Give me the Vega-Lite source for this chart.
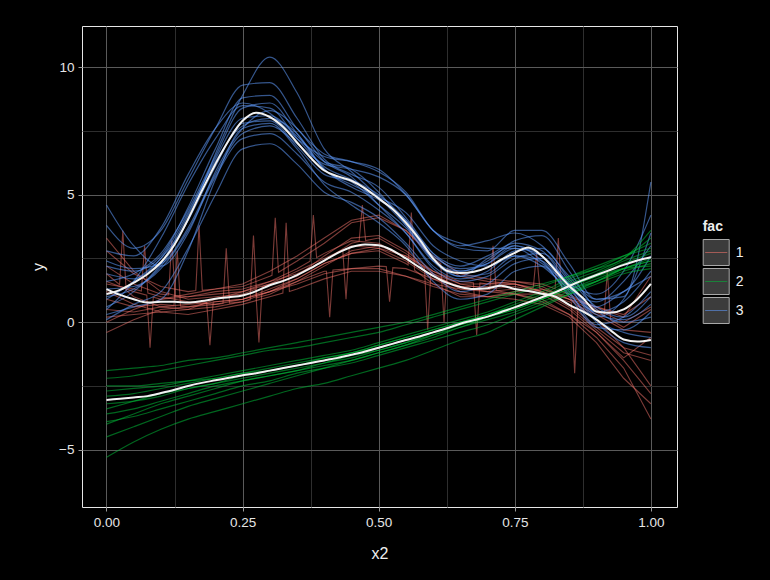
{
"$schema":"https://vega.github.io/schema/vega-lite/v6.json",
"width":595,"height":481,
"autosize":{"type":"none"},
"padding":{"left":82,"top":26,"right":93,"bottom":73},
"background":"#000000",
"datasets":{
"m":[
{"f":3,"x":0,"y":1.1},{"f":3,"x":0.025,"y":1.27},{"f":3,"x":0.05,"y":1.55},{"f":3,"x":0.075,"y":1.88},{"f":3,"x":0.1,"y":2.35},{"f":3,"x":0.125,"y":3.05},{"f":3,"x":0.15,"y":4.05},{"f":3,"x":0.175,"y":5.15},{"f":3,"x":0.2,"y":6.2},{"f":3,"x":0.225,"y":7.15},{"f":3,"x":0.25,"y":7.9},{"f":3,"x":0.275,"y":8.22},{"f":3,"x":0.3,"y":8.05},{"f":3,"x":0.325,"y":7.65},{"f":3,"x":0.35,"y":7.05},{"f":3,"x":0.375,"y":6.45},{"f":3,"x":0.4,"y":5.95},{"f":3,"x":0.425,"y":5.72},{"f":3,"x":0.45,"y":5.55},{"f":3,"x":0.475,"y":5.25},{"f":3,"x":0.5,"y":4.85},{"f":3,"x":0.525,"y":4.45},{"f":3,"x":0.55,"y":3.9},{"f":3,"x":0.575,"y":3.25},{"f":3,"x":0.6,"y":2.5},{"f":3,"x":0.625,"y":2.02},{"f":3,"x":0.65,"y":1.93},{"f":3,"x":0.675,"y":1.98},{"f":3,"x":0.7,"y":2.15},{"f":3,"x":0.725,"y":2.45},{"f":3,"x":0.75,"y":2.72},{"f":3,"x":0.775,"y":2.93},{"f":3,"x":0.8,"y":2.6},{"f":3,"x":0.825,"y":2.02},{"f":3,"x":0.85,"y":1.42},{"f":3,"x":0.875,"y":0.95},{"f":3,"x":0.9,"y":0.42},{"f":3,"x":0.925,"y":0.37},{"f":3,"x":0.95,"y":0.5},{"f":3,"x":0.975,"y":0.9},{"f":3,"x":1,"y":1.5},
{"f":1,"x":0,"y":1.3},{"f":1,"x":0.025,"y":1.07},{"f":1,"x":0.05,"y":0.9},{"f":1,"x":0.075,"y":0.77},{"f":1,"x":0.1,"y":0.8},{"f":1,"x":0.125,"y":0.8},{"f":1,"x":0.15,"y":0.77},{"f":1,"x":0.175,"y":0.83},{"f":1,"x":0.2,"y":0.92},{"f":1,"x":0.225,"y":0.98},{"f":1,"x":0.25,"y":1.05},{"f":1,"x":0.275,"y":1.22},{"f":1,"x":0.3,"y":1.45},{"f":1,"x":0.325,"y":1.62},{"f":1,"x":0.35,"y":1.85},{"f":1,"x":0.375,"y":2.12},{"f":1,"x":0.4,"y":2.42},{"f":1,"x":0.425,"y":2.72},{"f":1,"x":0.45,"y":2.95},{"f":1,"x":0.475,"y":3.05},{"f":1,"x":0.5,"y":3.02},{"f":1,"x":0.525,"y":2.82},{"f":1,"x":0.55,"y":2.5},{"f":1,"x":0.575,"y":2.15},{"f":1,"x":0.6,"y":1.82},{"f":1,"x":0.625,"y":1.55},{"f":1,"x":0.65,"y":1.38},{"f":1,"x":0.675,"y":1.3},{"f":1,"x":0.7,"y":1.33},{"f":1,"x":0.725,"y":1.43},{"f":1,"x":0.75,"y":1.3},{"f":1,"x":0.775,"y":1.22},{"f":1,"x":0.8,"y":1.12},{"f":1,"x":0.825,"y":1.0},{"f":1,"x":0.85,"y":0.68},{"f":1,"x":0.875,"y":0.42},{"f":1,"x":0.9,"y":0.1},{"f":1,"x":0.925,"y":-0.3},{"f":1,"x":0.95,"y":-0.68},{"f":1,"x":0.975,"y":-0.76},{"f":1,"x":1,"y":-0.7},
{"f":2,"x":0,"y":-3.05},{"f":2,"x":0.025,"y":-3.0},{"f":2,"x":0.05,"y":-2.95},{"f":2,"x":0.075,"y":-2.9},{"f":2,"x":0.1,"y":-2.78},{"f":2,"x":0.125,"y":-2.65},{"f":2,"x":0.15,"y":-2.5},{"f":2,"x":0.175,"y":-2.38},{"f":2,"x":0.2,"y":-2.28},{"f":2,"x":0.225,"y":-2.18},{"f":2,"x":0.25,"y":-2.08},{"f":2,"x":0.275,"y":-2.0},{"f":2,"x":0.3,"y":-1.9},{"f":2,"x":0.325,"y":-1.8},{"f":2,"x":0.35,"y":-1.7},{"f":2,"x":0.375,"y":-1.6},{"f":2,"x":0.4,"y":-1.5},{"f":2,"x":0.425,"y":-1.4},{"f":2,"x":0.45,"y":-1.28},{"f":2,"x":0.475,"y":-1.15},{"f":2,"x":0.5,"y":-1.0},{"f":2,"x":0.525,"y":-0.85},{"f":2,"x":0.55,"y":-0.7},{"f":2,"x":0.575,"y":-0.56},{"f":2,"x":0.6,"y":-0.4},{"f":2,"x":0.625,"y":-0.24},{"f":2,"x":0.65,"y":-0.06},{"f":2,"x":0.675,"y":0.08},{"f":2,"x":0.7,"y":0.22},{"f":2,"x":0.725,"y":0.4},{"f":2,"x":0.75,"y":0.58},{"f":2,"x":0.775,"y":0.78},{"f":2,"x":0.8,"y":0.98},{"f":2,"x":0.825,"y":1.18},{"f":2,"x":0.85,"y":1.42},{"f":2,"x":0.875,"y":1.65},{"f":2,"x":0.9,"y":1.85},{"f":2,"x":0.925,"y":2.05},{"f":2,"x":0.95,"y":2.25},{"f":2,"x":0.975,"y":2.42},{"f":2,"x":1,"y":2.55}
],
"s":[
{"f":3,"s":1,"x":0,"y":0.3},{"f":3,"s":1,"x":0.05,"y":0.6},{"f":3,"s":1,"x":0.1,"y":0.9},{"f":3,"s":1,"x":0.15,"y":2.8},{"f":3,"s":1,"x":0.2,"y":5.6},{"f":3,"s":1,"x":0.25,"y":7.6},{"f":3,"s":1,"x":0.3,"y":7.8},{"f":3,"s":1,"x":0.35,"y":6.8},{"f":3,"s":1,"x":0.4,"y":5.4},{"f":3,"s":1,"x":0.45,"y":4.6},{"f":3,"s":1,"x":0.5,"y":3.9},{"f":3,"s":1,"x":0.55,"y":3.0},{"f":3,"s":1,"x":0.6,"y":1.6},{"f":3,"s":1,"x":0.65,"y":0.9},{"f":3,"s":1,"x":0.7,"y":1.1},{"f":3,"s":1,"x":0.75,"y":2.0},{"f":3,"s":1,"x":0.8,"y":2.2},{"f":3,"s":1,"x":0.85,"y":1.0},{"f":3,"s":1,"x":0.9,"y":-0.2},{"f":3,"s":1,"x":0.95,"y":-0.3},{"f":3,"s":1,"x":1,"y":0.4},
{"f":3,"s":2,"x":0,"y":2.2},{"f":3,"s":2,"x":0.05,"y":2.0},{"f":3,"s":2,"x":0.1,"y":2.6},{"f":3,"s":2,"x":0.15,"y":4.5},{"f":3,"s":2,"x":0.2,"y":6.8},{"f":3,"s":2,"x":0.25,"y":8.8},{"f":3,"s":2,"x":0.3,"y":8.9},{"f":3,"s":2,"x":0.35,"y":7.6},{"f":3,"s":2,"x":0.4,"y":6.6},{"f":3,"s":2,"x":0.45,"y":6.3},{"f":3,"s":2,"x":0.5,"y":5.9},{"f":3,"s":2,"x":0.55,"y":5.1},{"f":3,"s":2,"x":0.6,"y":3.6},{"f":3,"s":2,"x":0.65,"y":3.0},{"f":3,"s":2,"x":0.7,"y":3.2},{"f":3,"s":2,"x":0.75,"y":3.5},{"f":3,"s":2,"x":0.8,"y":3.0},{"f":3,"s":2,"x":0.85,"y":1.8},{"f":3,"s":2,"x":0.9,"y":0.9},{"f":3,"s":2,"x":0.95,"y":1.2},{"f":3,"s":2,"x":1,"y":2.6},
{"f":3,"s":3,"x":0,"y":1.0},{"f":3,"s":3,"x":0.05,"y":1.3},{"f":3,"s":3,"x":0.1,"y":2.1},{"f":3,"s":3,"x":0.15,"y":3.6},{"f":3,"s":3,"x":0.2,"y":5.7},{"f":3,"s":3,"x":0.25,"y":7.2},{"f":3,"s":3,"x":0.3,"y":7.4},{"f":3,"s":3,"x":0.35,"y":6.6},{"f":3,"s":3,"x":0.4,"y":5.5},{"f":3,"s":3,"x":0.45,"y":5.1},{"f":3,"s":3,"x":0.5,"y":4.4},{"f":3,"s":3,"x":0.55,"y":3.5},{"f":3,"s":3,"x":0.6,"y":2.1},{"f":3,"s":3,"x":0.65,"y":1.6},{"f":3,"s":3,"x":0.7,"y":1.8},{"f":3,"s":3,"x":0.75,"y":2.5},{"f":3,"s":3,"x":0.8,"y":2.7},{"f":3,"s":3,"x":0.85,"y":1.6},{"f":3,"s":3,"x":0.9,"y":0.3},{"f":3,"s":3,"x":0.95,"y":0.1},{"f":3,"s":3,"x":1,"y":0.7},
{"f":3,"s":4,"x":0,"y":3.8},{"f":3,"s":4,"x":0.05,"y":2.9},{"f":3,"s":4,"x":0.1,"y":3.6},{"f":3,"s":4,"x":0.15,"y":5.6},{"f":3,"s":4,"x":0.2,"y":7.6},{"f":3,"s":4,"x":0.25,"y":9.3},{"f":3,"s":4,"x":0.3,"y":9.4},{"f":3,"s":4,"x":0.35,"y":8.0},{"f":3,"s":4,"x":0.4,"y":6.4},{"f":3,"s":4,"x":0.45,"y":5.8},{"f":3,"s":4,"x":0.5,"y":5.3},{"f":3,"s":4,"x":0.55,"y":4.1},{"f":3,"s":4,"x":0.6,"y":2.7},{"f":3,"s":4,"x":0.65,"y":2.0},{"f":3,"s":4,"x":0.7,"y":2.3},{"f":3,"s":4,"x":0.75,"y":3.0},{"f":3,"s":4,"x":0.8,"y":2.4},{"f":3,"s":4,"x":0.85,"y":1.1},{"f":3,"s":4,"x":0.9,"y":0.2},{"f":3,"s":4,"x":0.95,"y":0.9},{"f":3,"s":4,"x":1,"y":3.5},
{"f":3,"s":5,"x":0,"y":0.6},{"f":3,"s":5,"x":0.05,"y":1.2},{"f":3,"s":5,"x":0.1,"y":2.3},{"f":3,"s":5,"x":0.15,"y":4.2},{"f":3,"s":5,"x":0.2,"y":6.4},{"f":3,"s":5,"x":0.25,"y":8.0},{"f":3,"s":5,"x":0.3,"y":8.1},{"f":3,"s":5,"x":0.35,"y":7.3},{"f":3,"s":5,"x":0.4,"y":6.3},{"f":3,"s":5,"x":0.45,"y":6.0},{"f":3,"s":5,"x":0.5,"y":5.1},{"f":3,"s":5,"x":0.55,"y":3.8},{"f":3,"s":5,"x":0.6,"y":2.4},{"f":3,"s":5,"x":0.65,"y":2.0},{"f":3,"s":5,"x":0.7,"y":2.4},{"f":3,"s":5,"x":0.75,"y":3.2},{"f":3,"s":5,"x":0.8,"y":3.4},{"f":3,"s":5,"x":0.85,"y":2.0},{"f":3,"s":5,"x":0.9,"y":0.5},{"f":3,"s":5,"x":0.95,"y":0.0},{"f":3,"s":5,"x":1,"y":0.2},
{"f":3,"s":6,"x":0,"y":1.6},{"f":3,"s":6,"x":0.05,"y":1.9},{"f":3,"s":6,"x":0.1,"y":2.7},{"f":3,"s":6,"x":0.15,"y":4.4},{"f":3,"s":6,"x":0.2,"y":6.5},{"f":3,"s":6,"x":0.25,"y":8.4},{"f":3,"s":6,"x":0.3,"y":8.6},{"f":3,"s":6,"x":0.35,"y":7.4},{"f":3,"s":6,"x":0.4,"y":6.0},{"f":3,"s":6,"x":0.45,"y":5.4},{"f":3,"s":6,"x":0.5,"y":4.9},{"f":3,"s":6,"x":0.55,"y":4.3},{"f":3,"s":6,"x":0.6,"y":3.0},{"f":3,"s":6,"x":0.65,"y":2.4},{"f":3,"s":6,"x":0.7,"y":2.2},{"f":3,"s":6,"x":0.75,"y":2.6},{"f":3,"s":6,"x":0.8,"y":2.2},{"f":3,"s":6,"x":0.85,"y":1.3},{"f":3,"s":6,"x":0.9,"y":0.8},{"f":3,"s":6,"x":0.95,"y":1.6},{"f":3,"s":6,"x":1,"y":3.0},
{"f":3,"s":7,"x":0,"y":4.6},{"f":3,"s":7,"x":0.05,"y":3.0},{"f":3,"s":7,"x":0.1,"y":2.2},{"f":3,"s":7,"x":0.15,"y":3.5},{"f":3,"s":7,"x":0.2,"y":5.9},{"f":3,"s":7,"x":0.25,"y":7.6},{"f":3,"s":7,"x":0.3,"y":8.3},{"f":3,"s":7,"x":0.35,"y":7.6},{"f":3,"s":7,"x":0.4,"y":6.3},{"f":3,"s":7,"x":0.45,"y":5.7},{"f":3,"s":7,"x":0.5,"y":4.6},{"f":3,"s":7,"x":0.55,"y":3.5},{"f":3,"s":7,"x":0.6,"y":2.2},{"f":3,"s":7,"x":0.65,"y":1.7},{"f":3,"s":7,"x":0.7,"y":2.0},{"f":3,"s":7,"x":0.75,"y":2.8},{"f":3,"s":7,"x":0.8,"y":2.9},{"f":3,"s":7,"x":0.85,"y":1.7},{"f":3,"s":7,"x":0.9,"y":0.6},{"f":3,"s":7,"x":0.95,"y":0.2},{"f":3,"s":7,"x":1,"y":1.0},
{"f":3,"s":8,"x":0,"y":0.9},{"f":3,"s":8,"x":0.05,"y":1.6},{"f":3,"s":8,"x":0.1,"y":2.5},{"f":3,"s":8,"x":0.15,"y":4.0},{"f":3,"s":8,"x":0.2,"y":6.6},{"f":3,"s":8,"x":0.25,"y":8.9},{"f":3,"s":8,"x":0.3,"y":10.4},{"f":3,"s":8,"x":0.35,"y":9.0},{"f":3,"s":8,"x":0.4,"y":6.8},{"f":3,"s":8,"x":0.45,"y":5.9},{"f":3,"s":8,"x":0.5,"y":4.9},{"f":3,"s":8,"x":0.55,"y":3.8},{"f":3,"s":8,"x":0.6,"y":2.6},{"f":3,"s":8,"x":0.65,"y":2.1},{"f":3,"s":8,"x":0.7,"y":2.3},{"f":3,"s":8,"x":0.75,"y":2.9},{"f":3,"s":8,"x":0.8,"y":2.6},{"f":3,"s":8,"x":0.85,"y":1.5},{"f":3,"s":8,"x":0.9,"y":0.1},{"f":3,"s":8,"x":0.95,"y":-0.4},{"f":3,"s":8,"x":1,"y":-0.6},
{"f":3,"s":9,"x":0,"y":0.1},{"f":3,"s":9,"x":0.05,"y":0.7},{"f":3,"s":9,"x":0.1,"y":1.2},{"f":3,"s":9,"x":0.15,"y":2.9},{"f":3,"s":9,"x":0.2,"y":5.0},{"f":3,"s":9,"x":0.25,"y":6.8},{"f":3,"s":9,"x":0.3,"y":7.0},{"f":3,"s":9,"x":0.35,"y":6.2},{"f":3,"s":9,"x":0.4,"y":5.1},{"f":3,"s":9,"x":0.45,"y":4.7},{"f":3,"s":9,"x":0.5,"y":4.1},{"f":3,"s":9,"x":0.55,"y":3.1},{"f":3,"s":9,"x":0.6,"y":1.9},{"f":3,"s":9,"x":0.65,"y":1.2},{"f":3,"s":9,"x":0.7,"y":1.5},{"f":3,"s":9,"x":0.75,"y":2.3},{"f":3,"s":9,"x":0.8,"y":2.5},{"f":3,"s":9,"x":0.85,"y":1.3},{"f":3,"s":9,"x":0.9,"y":0.4},{"f":3,"s":9,"x":0.95,"y":0.8},{"f":3,"s":9,"x":1,"y":2.0},
{"f":3,"s":10,"x":0,"y":2.8},{"f":3,"s":10,"x":0.05,"y":2.6},{"f":3,"s":10,"x":0.1,"y":3.7},{"f":3,"s":10,"x":0.15,"y":5.8},{"f":3,"s":10,"x":0.2,"y":7.6},{"f":3,"s":10,"x":0.25,"y":8.6},{"f":3,"s":10,"x":0.3,"y":8.2},{"f":3,"s":10,"x":0.35,"y":7.2},{"f":3,"s":10,"x":0.4,"y":6.5},{"f":3,"s":10,"x":0.45,"y":6.3},{"f":3,"s":10,"x":0.5,"y":6.0},{"f":3,"s":10,"x":0.55,"y":5.0},{"f":3,"s":10,"x":0.6,"y":3.6},{"f":3,"s":10,"x":0.65,"y":2.9},{"f":3,"s":10,"x":0.7,"y":2.8},{"f":3,"s":10,"x":0.75,"y":3.6},{"f":3,"s":10,"x":0.8,"y":3.6},{"f":3,"s":10,"x":0.85,"y":2.3},{"f":3,"s":10,"x":0.9,"y":0.9},{"f":3,"s":10,"x":0.95,"y":1.0},{"f":3,"s":10,"x":1,"y":5.5},
{"f":3,"s":41,"x":0,"y":1.3},{"f":3,"s":41,"x":0.05,"y":1.4},{"f":3,"s":41,"x":0.1,"y":2.2},{"f":3,"s":41,"x":0.15,"y":4.0},{"f":3,"s":41,"x":0.2,"y":6.1},{"f":3,"s":41,"x":0.25,"y":7.8},{"f":3,"s":41,"x":0.3,"y":7.9},{"f":3,"s":41,"x":0.35,"y":6.9},{"f":3,"s":41,"x":0.4,"y":5.8},{"f":3,"s":41,"x":0.45,"y":5.5},{"f":3,"s":41,"x":0.5,"y":4.6},{"f":3,"s":41,"x":0.55,"y":3.7},{"f":3,"s":41,"x":0.6,"y":2.5},{"f":3,"s":41,"x":0.65,"y":1.8},{"f":3,"s":41,"x":0.7,"y":1.9},{"f":3,"s":41,"x":0.75,"y":2.6},{"f":3,"s":41,"x":0.8,"y":2.4},{"f":3,"s":41,"x":0.85,"y":1.2},{"f":3,"s":41,"x":0.9,"y":-0.1},{"f":3,"s":41,"x":0.95,"y":0.2},{"f":3,"s":41,"x":1,"y":1.2},
{"f":3,"s":42,"x":0,"y":1.9},{"f":3,"s":42,"x":0.05,"y":1.7},{"f":3,"s":42,"x":0.1,"y":2.5},{"f":3,"s":42,"x":0.15,"y":4.3},{"f":3,"s":42,"x":0.2,"y":6.3},{"f":3,"s":42,"x":0.25,"y":7.7},{"f":3,"s":42,"x":0.3,"y":8.0},{"f":3,"s":42,"x":0.35,"y":7.4},{"f":3,"s":42,"x":0.4,"y":6.0},{"f":3,"s":42,"x":0.45,"y":5.3},{"f":3,"s":42,"x":0.5,"y":4.8},{"f":3,"s":42,"x":0.55,"y":4.0},{"f":3,"s":42,"x":0.6,"y":2.4},{"f":3,"s":42,"x":0.65,"y":1.8},{"f":3,"s":42,"x":0.7,"y":2.5},{"f":3,"s":42,"x":0.75,"y":3.0},{"f":3,"s":42,"x":0.8,"y":2.6},{"f":3,"s":42,"x":0.85,"y":1.5},{"f":3,"s":42,"x":0.9,"y":0.6},{"f":3,"s":42,"x":0.95,"y":1.2},{"f":3,"s":42,"x":1,"y":1.8},
{"f":3,"s":43,"x":0,"y":0.5},{"f":3,"s":43,"x":0.05,"y":1.6},{"f":3,"s":43,"x":0.1,"y":3.3},{"f":3,"s":43,"x":0.15,"y":5.4},{"f":3,"s":43,"x":0.2,"y":7.2},{"f":3,"s":43,"x":0.25,"y":8.5},{"f":3,"s":43,"x":0.3,"y":8.4},{"f":3,"s":43,"x":0.35,"y":7.2},{"f":3,"s":43,"x":0.4,"y":6.1},{"f":3,"s":43,"x":0.45,"y":5.6},{"f":3,"s":43,"x":0.5,"y":5.0},{"f":3,"s":43,"x":0.55,"y":4.0},{"f":3,"s":43,"x":0.6,"y":2.7},{"f":3,"s":43,"x":0.65,"y":2.2},{"f":3,"s":43,"x":0.7,"y":2.6},{"f":3,"s":43,"x":0.75,"y":3.1},{"f":3,"s":43,"x":0.8,"y":2.8},{"f":3,"s":43,"x":0.85,"y":1.4},{"f":3,"s":43,"x":0.9,"y":0.0},{"f":3,"s":43,"x":0.95,"y":-0.8},{"f":3,"s":43,"x":1,"y":-1.0},
{"f":3,"s":44,"x":0,"y":2.4},{"f":3,"s":44,"x":0.05,"y":2.1},{"f":3,"s":44,"x":0.1,"y":2.3},{"f":3,"s":44,"x":0.15,"y":3.7},{"f":3,"s":44,"x":0.2,"y":5.8},{"f":3,"s":44,"x":0.25,"y":7.4},{"f":3,"s":44,"x":0.3,"y":7.7},{"f":3,"s":44,"x":0.35,"y":7.0},{"f":3,"s":44,"x":0.4,"y":6.2},{"f":3,"s":44,"x":0.45,"y":6.0},{"f":3,"s":44,"x":0.5,"y":5.7},{"f":3,"s":44,"x":0.55,"y":5.0},{"f":3,"s":44,"x":0.6,"y":3.6},{"f":3,"s":44,"x":0.65,"y":3.1},{"f":3,"s":44,"x":0.7,"y":2.9},{"f":3,"s":44,"x":0.75,"y":2.9},{"f":3,"s":44,"x":0.8,"y":2.3},{"f":3,"s":44,"x":0.85,"y":1.5},{"f":3,"s":44,"x":0.9,"y":1.1},{"f":3,"s":44,"x":0.95,"y":2.0},{"f":3,"s":44,"x":1,"y":4.2},
{"f":1,"s":11,"x":0,"y":2.8},{"f":1,"s":11,"x":0.05,"y":1.9},{"f":1,"s":11,"x":0.1,"y":1.4},{"f":1,"s":11,"x":0.15,"y":1.2},{"f":1,"s":11,"x":0.164,"y":1.24},{"f":1,"s":11,"x":0.17,"y":3.8},{"f":1,"s":11,"x":0.176,"y":1.25},{"f":1,"s":11,"x":0.2,"y":1.3},{"f":1,"s":11,"x":0.25,"y":1.5},{"f":1,"s":11,"x":0.3,"y":2.0},{"f":1,"s":11,"x":0.35,"y":2.6},{"f":1,"s":11,"x":0.4,"y":3.3},{"f":1,"s":11,"x":0.45,"y":4.0},{"f":1,"s":11,"x":0.5,"y":4.2},{"f":1,"s":11,"x":0.55,"y":3.6},{"f":1,"s":11,"x":0.6,"y":2.5},{"f":1,"s":11,"x":0.614,"y":2.3},{"f":1,"s":11,"x":0.62,"y":0.0},{"f":1,"s":11,"x":0.626,"y":2.1},{"f":1,"s":11,"x":0.65,"y":1.8},{"f":1,"s":11,"x":0.7,"y":1.6},{"f":1,"s":11,"x":0.75,"y":1.5},{"f":1,"s":11,"x":0.8,"y":1.2},{"f":1,"s":11,"x":0.85,"y":0.6},{"f":1,"s":11,"x":0.9,"y":-0.3},{"f":1,"s":11,"x":0.95,"y":-1.2},{"f":1,"s":11,"x":1,"y":-1.5},
{"f":1,"s":12,"x":0,"y":0.2},{"f":1,"s":12,"x":0.05,"y":0.3},{"f":1,"s":12,"x":0.1,"y":0.4},{"f":1,"s":12,"x":0.15,"y":0.3},{"f":1,"s":12,"x":0.2,"y":0.5},{"f":1,"s":12,"x":0.25,"y":0.7},{"f":1,"s":12,"x":0.3,"y":1.0},{"f":1,"s":12,"x":0.324,"y":1.14},{"f":1,"s":12,"x":0.33,"y":3.9},{"f":1,"s":12,"x":0.336,"y":1.2},{"f":1,"s":12,"x":0.35,"y":1.3},{"f":1,"s":12,"x":0.4,"y":1.7},{"f":1,"s":12,"x":0.45,"y":2.0},{"f":1,"s":12,"x":0.5,"y":2.0},{"f":1,"s":12,"x":0.55,"y":1.8},{"f":1,"s":12,"x":0.6,"y":1.4},{"f":1,"s":12,"x":0.65,"y":1.1},{"f":1,"s":12,"x":0.7,"y":1.0},{"f":1,"s":12,"x":0.75,"y":1.1},{"f":1,"s":12,"x":0.8,"y":1.1},{"f":1,"s":12,"x":0.85,"y":0.8},{"f":1,"s":12,"x":0.854,"y":0.76},{"f":1,"s":12,"x":0.86,"y":-2.0},{"f":1,"s":12,"x":0.866,"y":0.64},{"f":1,"s":12,"x":0.9,"y":0.3},{"f":1,"s":12,"x":0.95,"y":-0.3},{"f":1,"s":12,"x":1,"y":-0.4},
{"f":1,"s":13,"x":0,"y":1.6},{"f":1,"s":13,"x":0.05,"y":1.2},{"f":1,"s":13,"x":0.074,"y":1.06},{"f":1,"s":13,"x":0.08,"y":-1.0},{"f":1,"s":13,"x":0.086,"y":0.98},{"f":1,"s":13,"x":0.1,"y":0.9},{"f":1,"s":13,"x":0.15,"y":1.0},{"f":1,"s":13,"x":0.2,"y":1.2},{"f":1,"s":13,"x":0.25,"y":1.3},{"f":1,"s":13,"x":0.3,"y":1.6},{"f":1,"s":13,"x":0.35,"y":1.9},{"f":1,"s":13,"x":0.4,"y":2.4},{"f":1,"s":13,"x":0.45,"y":3.1},{"f":1,"s":13,"x":0.464,"y":3.16},{"f":1,"s":13,"x":0.47,"y":4.6},{"f":1,"s":13,"x":0.476,"y":3.2},{"f":1,"s":13,"x":0.5,"y":3.3},{"f":1,"s":13,"x":0.55,"y":2.7},{"f":1,"s":13,"x":0.6,"y":1.9},{"f":1,"s":13,"x":0.65,"y":1.5},{"f":1,"s":13,"x":0.7,"y":1.5},{"f":1,"s":13,"x":0.75,"y":1.6},{"f":1,"s":13,"x":0.8,"y":1.4},{"f":1,"s":13,"x":0.85,"y":0.9},{"f":1,"s":13,"x":0.9,"y":0.1},{"f":1,"s":13,"x":0.95,"y":-1.0},{"f":1,"s":13,"x":1,"y":-2.5},
{"f":1,"s":14,"x":0,"y":-0.4},{"f":1,"s":14,"x":0.05,"y":0.1},{"f":1,"s":14,"x":0.1,"y":0.5},{"f":1,"s":14,"x":0.15,"y":0.6},{"f":1,"s":14,"x":0.2,"y":0.7},{"f":1,"s":14,"x":0.214,"y":0.73},{"f":1,"s":14,"x":0.22,"y":2.9},{"f":1,"s":14,"x":0.226,"y":0.75},{"f":1,"s":14,"x":0.25,"y":0.8},{"f":1,"s":14,"x":0.3,"y":1.2},{"f":1,"s":14,"x":0.35,"y":1.7},{"f":1,"s":14,"x":0.4,"y":2.3},{"f":1,"s":14,"x":0.45,"y":2.7},{"f":1,"s":14,"x":0.5,"y":2.8},{"f":1,"s":14,"x":0.55,"y":2.3},{"f":1,"s":14,"x":0.554,"y":2.24},{"f":1,"s":14,"x":0.56,"y":4.3},{"f":1,"s":14,"x":0.566,"y":2.04},{"f":1,"s":14,"x":0.6,"y":1.5},{"f":1,"s":14,"x":0.65,"y":1.0},{"f":1,"s":14,"x":0.7,"y":1.0},{"f":1,"s":14,"x":0.75,"y":1.2},{"f":1,"s":14,"x":0.8,"y":1.3},{"f":1,"s":14,"x":0.85,"y":1.0},{"f":1,"s":14,"x":0.9,"y":0.6},{"f":1,"s":14,"x":0.95,"y":0.2},{"f":1,"s":14,"x":1,"y":1.8},
{"f":1,"s":15,"x":0,"y":3.3},{"f":1,"s":15,"x":0.05,"y":2.0},{"f":1,"s":15,"x":0.1,"y":1.2},{"f":1,"s":15,"x":0.15,"y":0.9},{"f":1,"s":15,"x":0.2,"y":1.0},{"f":1,"s":15,"x":0.25,"y":1.1},{"f":1,"s":15,"x":0.274,"y":1.29},{"f":1,"s":15,"x":0.28,"y":-0.8},{"f":1,"s":15,"x":0.286,"y":1.39},{"f":1,"s":15,"x":0.3,"y":1.5},{"f":1,"s":15,"x":0.35,"y":1.8},{"f":1,"s":15,"x":0.4,"y":2.6},{"f":1,"s":15,"x":0.45,"y":3.3},{"f":1,"s":15,"x":0.5,"y":3.4},{"f":1,"s":15,"x":0.55,"y":2.8},{"f":1,"s":15,"x":0.6,"y":2.0},{"f":1,"s":15,"x":0.65,"y":1.5},{"f":1,"s":15,"x":0.7,"y":1.3},{"f":1,"s":15,"x":0.704,"y":1.28},{"f":1,"s":15,"x":0.71,"y":3.0},{"f":1,"s":15,"x":0.716,"y":1.24},{"f":1,"s":15,"x":0.75,"y":1.1},{"f":1,"s":15,"x":0.8,"y":0.9},{"f":1,"s":15,"x":0.85,"y":0.3},{"f":1,"s":15,"x":0.9,"y":-0.6},{"f":1,"s":15,"x":0.95,"y":-1.8},{"f":1,"s":15,"x":1,"y":-3.8},
{"f":1,"s":16,"x":0,"y":0.9},{"f":1,"s":16,"x":0.05,"y":0.6},{"f":1,"s":16,"x":0.1,"y":0.7},{"f":1,"s":16,"x":0.124,"y":0.65},{"f":1,"s":16,"x":0.13,"y":2.8},{"f":1,"s":16,"x":0.136,"y":0.63},{"f":1,"s":16,"x":0.15,"y":0.6},{"f":1,"s":16,"x":0.2,"y":0.8},{"f":1,"s":16,"x":0.25,"y":0.9},{"f":1,"s":16,"x":0.3,"y":1.2},{"f":1,"s":16,"x":0.35,"y":1.6},{"f":1,"s":16,"x":0.4,"y":2.0},{"f":1,"s":16,"x":0.404,"y":2.0},{"f":1,"s":16,"x":0.41,"y":0.2},{"f":1,"s":16,"x":0.416,"y":2.05},{"f":1,"s":16,"x":0.45,"y":2.1},{"f":1,"s":16,"x":0.5,"y":2.1},{"f":1,"s":16,"x":0.55,"y":1.8},{"f":1,"s":16,"x":0.6,"y":1.5},{"f":1,"s":16,"x":0.65,"y":1.3},{"f":1,"s":16,"x":0.7,"y":1.3},{"f":1,"s":16,"x":0.75,"y":1.4},{"f":1,"s":16,"x":0.8,"y":1.2},{"f":1,"s":16,"x":0.85,"y":0.9},{"f":1,"s":16,"x":0.9,"y":0.4},{"f":1,"s":16,"x":0.914,"y":0.23},{"f":1,"s":16,"x":0.92,"y":2.0},{"f":1,"s":16,"x":0.926,"y":0.09},{"f":1,"s":16,"x":0.95,"y":-0.2},{"f":1,"s":16,"x":1,"y":0.5},
{"f":1,"s":17,"x":0,"y":1.9},{"f":1,"s":17,"x":0.024,"y":1.47},{"f":1,"s":17,"x":0.03,"y":3.6},{"f":1,"s":17,"x":0.036,"y":1.25},{"f":1,"s":17,"x":0.05,"y":1.0},{"f":1,"s":17,"x":0.1,"y":0.6},{"f":1,"s":17,"x":0.15,"y":0.5},{"f":1,"s":17,"x":0.2,"y":0.9},{"f":1,"s":17,"x":0.25,"y":1.2},{"f":1,"s":17,"x":0.3,"y":1.6},{"f":1,"s":17,"x":0.35,"y":2.1},{"f":1,"s":17,"x":0.374,"y":2.39},{"f":1,"s":17,"x":0.38,"y":4.2},{"f":1,"s":17,"x":0.386,"y":2.53},{"f":1,"s":17,"x":0.4,"y":2.7},{"f":1,"s":17,"x":0.45,"y":3.2},{"f":1,"s":17,"x":0.5,"y":3.1},{"f":1,"s":17,"x":0.55,"y":2.5},{"f":1,"s":17,"x":0.6,"y":1.8},{"f":1,"s":17,"x":0.65,"y":1.4},{"f":1,"s":17,"x":0.7,"y":1.2},{"f":1,"s":17,"x":0.75,"y":1.1},{"f":1,"s":17,"x":0.8,"y":0.8},{"f":1,"s":17,"x":0.85,"y":0.3},{"f":1,"s":17,"x":0.9,"y":-0.4},{"f":1,"s":17,"x":0.95,"y":-1.5},{"f":1,"s":17,"x":1,"y":-2.8},
{"f":1,"s":18,"x":0,"y":0.5},{"f":1,"s":18,"x":0.05,"y":0.4},{"f":1,"s":18,"x":0.1,"y":0.6},{"f":1,"s":18,"x":0.15,"y":0.7},{"f":1,"s":18,"x":0.184,"y":0.77},{"f":1,"s":18,"x":0.19,"y":-0.9},{"f":1,"s":18,"x":0.196,"y":0.79},{"f":1,"s":18,"x":0.2,"y":0.8},{"f":1,"s":18,"x":0.25,"y":0.9},{"f":1,"s":18,"x":0.3,"y":1.2},{"f":1,"s":18,"x":0.35,"y":1.5},{"f":1,"s":18,"x":0.4,"y":1.9},{"f":1,"s":18,"x":0.45,"y":2.1},{"f":1,"s":18,"x":0.5,"y":2.2},{"f":1,"s":18,"x":0.514,"y":2.18},{"f":1,"s":18,"x":0.52,"y":0.8},{"f":1,"s":18,"x":0.526,"y":2.14},{"f":1,"s":18,"x":0.55,"y":2.1},{"f":1,"s":18,"x":0.6,"y":1.7},{"f":1,"s":18,"x":0.65,"y":1.4},{"f":1,"s":18,"x":0.7,"y":1.4},{"f":1,"s":18,"x":0.75,"y":1.5},{"f":1,"s":18,"x":0.784,"y":1.36},{"f":1,"s":18,"x":0.79,"y":2.7},{"f":1,"s":18,"x":0.796,"y":1.32},{"f":1,"s":18,"x":0.8,"y":1.3},{"f":1,"s":18,"x":0.85,"y":0.9},{"f":1,"s":18,"x":0.9,"y":0.6},{"f":1,"s":18,"x":0.95,"y":0.3},{"f":1,"s":18,"x":1,"y":1.0},
{"f":1,"s":31,"x":0,"y":1.2},{"f":1,"s":31,"x":0.05,"y":0.7},{"f":1,"s":31,"x":0.1,"y":0.4},{"f":1,"s":31,"x":0.15,"y":0.5},{"f":1,"s":31,"x":0.2,"y":0.6},{"f":1,"s":31,"x":0.25,"y":0.8},{"f":1,"s":31,"x":0.264,"y":0.88},{"f":1,"s":31,"x":0.27,"y":3.4},{"f":1,"s":31,"x":0.276,"y":0.96},{"f":1,"s":31,"x":0.3,"y":1.1},{"f":1,"s":31,"x":0.35,"y":1.6},{"f":1,"s":31,"x":0.4,"y":2.2},{"f":1,"s":31,"x":0.45,"y":2.8},{"f":1,"s":31,"x":0.5,"y":3.0},{"f":1,"s":31,"x":0.55,"y":2.6},{"f":1,"s":31,"x":0.6,"y":2.0},{"f":1,"s":31,"x":0.65,"y":1.6},{"f":1,"s":31,"x":0.674,"y":1.55},{"f":1,"s":31,"x":0.68,"y":-0.5},{"f":1,"s":31,"x":0.686,"y":1.54},{"f":1,"s":31,"x":0.7,"y":1.5},{"f":1,"s":31,"x":0.75,"y":1.5},{"f":1,"s":31,"x":0.8,"y":1.2},{"f":1,"s":31,"x":0.85,"y":0.7},{"f":1,"s":31,"x":0.9,"y":-0.2},{"f":1,"s":31,"x":0.95,"y":-1.0},{"f":1,"s":31,"x":1,"y":-1.3},
{"f":1,"s":32,"x":0,"y":2.2},{"f":1,"s":32,"x":0.05,"y":1.5},{"f":1,"s":32,"x":0.1,"y":1.1},{"f":1,"s":32,"x":0.114,"y":1.07},{"f":1,"s":32,"x":0.12,"y":3.2},{"f":1,"s":32,"x":0.126,"y":1.05},{"f":1,"s":32,"x":0.15,"y":1.0},{"f":1,"s":32,"x":0.2,"y":1.1},{"f":1,"s":32,"x":0.25,"y":1.2},{"f":1,"s":32,"x":0.3,"y":1.5},{"f":1,"s":32,"x":0.35,"y":2.0},{"f":1,"s":32,"x":0.4,"y":2.5},{"f":1,"s":32,"x":0.434,"y":2.84},{"f":1,"s":32,"x":0.44,"y":0.9},{"f":1,"s":32,"x":0.446,"y":2.96},{"f":1,"s":32,"x":0.45,"y":3.0},{"f":1,"s":32,"x":0.5,"y":2.9},{"f":1,"s":32,"x":0.55,"y":2.4},{"f":1,"s":32,"x":0.6,"y":1.7},{"f":1,"s":32,"x":0.65,"y":1.2},{"f":1,"s":32,"x":0.7,"y":1.0},{"f":1,"s":32,"x":0.75,"y":0.9},{"f":1,"s":32,"x":0.8,"y":0.7},{"f":1,"s":32,"x":0.85,"y":0.2},{"f":1,"s":32,"x":0.9,"y":-0.8},{"f":1,"s":32,"x":0.95,"y":-2.2},{"f":1,"s":32,"x":1,"y":-3.2},
{"f":1,"s":33,"x":0,"y":0.0},{"f":1,"s":33,"x":0.05,"y":0.5},{"f":1,"s":33,"x":0.1,"y":0.9},{"f":1,"s":33,"x":0.15,"y":1.1},{"f":1,"s":33,"x":0.2,"y":1.3},{"f":1,"s":33,"x":0.25,"y":1.4},{"f":1,"s":33,"x":0.3,"y":1.8},{"f":1,"s":33,"x":0.304,"y":1.84},{"f":1,"s":33,"x":0.31,"y":4.1},{"f":1,"s":33,"x":0.316,"y":1.96},{"f":1,"s":33,"x":0.35,"y":2.4},{"f":1,"s":33,"x":0.4,"y":3.1},{"f":1,"s":33,"x":0.45,"y":3.9},{"f":1,"s":33,"x":0.5,"y":4.1},{"f":1,"s":33,"x":0.55,"y":3.6},{"f":1,"s":33,"x":0.6,"y":2.6},{"f":1,"s":33,"x":0.65,"y":1.9},{"f":1,"s":33,"x":0.7,"y":1.7},{"f":1,"s":33,"x":0.75,"y":1.6},{"f":1,"s":33,"x":0.8,"y":1.5},{"f":1,"s":33,"x":0.824,"y":1.31},{"f":1,"s":33,"x":0.83,"y":3.3},{"f":1,"s":33,"x":0.836,"y":1.21},{"f":1,"s":33,"x":0.85,"y":1.1},{"f":1,"s":33,"x":0.9,"y":0.5},{"f":1,"s":33,"x":0.95,"y":0.0},{"f":1,"s":33,"x":1,"y":0.6},
{"f":1,"s":34,"x":0,"y":1.5},{"f":1,"s":34,"x":0.05,"y":1.3},{"f":1,"s":34,"x":0.064,"y":1.22},{"f":1,"s":34,"x":0.07,"y":3.0},{"f":1,"s":34,"x":0.076,"y":1.14},{"f":1,"s":34,"x":0.1,"y":1.0},{"f":1,"s":34,"x":0.15,"y":0.8},{"f":1,"s":34,"x":0.2,"y":0.7},{"f":1,"s":34,"x":0.25,"y":0.9},{"f":1,"s":34,"x":0.3,"y":1.3},{"f":1,"s":34,"x":0.35,"y":1.7},{"f":1,"s":34,"x":0.4,"y":2.3},{"f":1,"s":34,"x":0.45,"y":2.7},{"f":1,"s":34,"x":0.5,"y":2.9},{"f":1,"s":34,"x":0.55,"y":2.6},{"f":1,"s":34,"x":0.584,"y":2.12},{"f":1,"s":34,"x":0.59,"y":-0.3},{"f":1,"s":34,"x":0.596,"y":1.96},{"f":1,"s":34,"x":0.6,"y":1.9},{"f":1,"s":34,"x":0.65,"y":1.3},{"f":1,"s":34,"x":0.7,"y":1.2},{"f":1,"s":34,"x":0.75,"y":1.3},{"f":1,"s":34,"x":0.8,"y":1.1},{"f":1,"s":34,"x":0.85,"y":0.5},{"f":1,"s":34,"x":0.9,"y":-0.4},{"f":1,"s":34,"x":0.95,"y":-1.4},{"f":1,"s":34,"x":1,"y":-0.6},
{"f":2,"s":21,"x":0,"y":-4.5},{"f":2,"s":21,"x":0.05,"y":-4.1},{"f":2,"s":21,"x":0.1,"y":-3.7},{"f":2,"s":21,"x":0.15,"y":-3.3},{"f":2,"s":21,"x":0.2,"y":-3.0},{"f":2,"s":21,"x":0.25,"y":-2.7},{"f":2,"s":21,"x":0.3,"y":-2.4},{"f":2,"s":21,"x":0.35,"y":-2.1},{"f":2,"s":21,"x":0.4,"y":-1.8},{"f":2,"s":21,"x":0.45,"y":-1.5},{"f":2,"s":21,"x":0.5,"y":-1.2},{"f":2,"s":21,"x":0.55,"y":-0.9},{"f":2,"s":21,"x":0.6,"y":-0.5},{"f":2,"s":21,"x":0.65,"y":-0.1},{"f":2,"s":21,"x":0.7,"y":0.2},{"f":2,"s":21,"x":0.75,"y":0.5},{"f":2,"s":21,"x":0.8,"y":0.9},{"f":2,"s":21,"x":0.85,"y":1.3},{"f":2,"s":21,"x":0.9,"y":1.6},{"f":2,"s":21,"x":0.95,"y":2.0},{"f":2,"s":21,"x":1,"y":2.3},
{"f":2,"s":22,"x":0,"y":-2.2},{"f":2,"s":22,"x":0.05,"y":-2.1},{"f":2,"s":22,"x":0.1,"y":-1.9},{"f":2,"s":22,"x":0.15,"y":-1.7},{"f":2,"s":22,"x":0.2,"y":-1.5},{"f":2,"s":22,"x":0.25,"y":-1.3},{"f":2,"s":22,"x":0.3,"y":-1.1},{"f":2,"s":22,"x":0.35,"y":-1.0},{"f":2,"s":22,"x":0.4,"y":-0.8},{"f":2,"s":22,"x":0.45,"y":-0.6},{"f":2,"s":22,"x":0.5,"y":-0.4},{"f":2,"s":22,"x":0.55,"y":-0.1},{"f":2,"s":22,"x":0.6,"y":0.2},{"f":2,"s":22,"x":0.65,"y":0.5},{"f":2,"s":22,"x":0.7,"y":0.8},{"f":2,"s":22,"x":0.75,"y":1.1},{"f":2,"s":22,"x":0.8,"y":1.4},{"f":2,"s":22,"x":0.85,"y":1.8},{"f":2,"s":22,"x":0.9,"y":2.2},{"f":2,"s":22,"x":0.95,"y":2.6},{"f":2,"s":22,"x":1,"y":2.9},
{"f":2,"s":23,"x":0,"y":-3.6},{"f":2,"s":23,"x":0.05,"y":-3.4},{"f":2,"s":23,"x":0.1,"y":-3.1},{"f":2,"s":23,"x":0.15,"y":-2.8},{"f":2,"s":23,"x":0.2,"y":-2.5},{"f":2,"s":23,"x":0.25,"y":-2.3},{"f":2,"s":23,"x":0.3,"y":-2.1},{"f":2,"s":23,"x":0.35,"y":-1.9},{"f":2,"s":23,"x":0.4,"y":-1.7},{"f":2,"s":23,"x":0.45,"y":-1.5},{"f":2,"s":23,"x":0.5,"y":-1.2},{"f":2,"s":23,"x":0.55,"y":-0.9},{"f":2,"s":23,"x":0.6,"y":-0.6},{"f":2,"s":23,"x":0.65,"y":-0.2},{"f":2,"s":23,"x":0.7,"y":0.1},{"f":2,"s":23,"x":0.75,"y":0.4},{"f":2,"s":23,"x":0.8,"y":0.8},{"f":2,"s":23,"x":0.85,"y":1.2},{"f":2,"s":23,"x":0.9,"y":1.6},{"f":2,"s":23,"x":0.95,"y":2.1},{"f":2,"s":23,"x":1,"y":2.5},
{"f":2,"s":24,"x":0,"y":-2.7},{"f":2,"s":24,"x":0.05,"y":-2.6},{"f":2,"s":24,"x":0.1,"y":-2.5},{"f":2,"s":24,"x":0.15,"y":-2.3},{"f":2,"s":24,"x":0.2,"y":-2.1},{"f":2,"s":24,"x":0.25,"y":-1.9},{"f":2,"s":24,"x":0.3,"y":-1.7},{"f":2,"s":24,"x":0.35,"y":-1.5},{"f":2,"s":24,"x":0.4,"y":-1.3},{"f":2,"s":24,"x":0.45,"y":-1.1},{"f":2,"s":24,"x":0.5,"y":-0.8},{"f":2,"s":24,"x":0.55,"y":-0.5},{"f":2,"s":24,"x":0.6,"y":-0.2},{"f":2,"s":24,"x":0.65,"y":0.1},{"f":2,"s":24,"x":0.7,"y":0.4},{"f":2,"s":24,"x":0.75,"y":0.8},{"f":2,"s":24,"x":0.8,"y":1.2},{"f":2,"s":24,"x":0.85,"y":1.7},{"f":2,"s":24,"x":0.9,"y":2.1},{"f":2,"s":24,"x":0.95,"y":2.6},{"f":2,"s":24,"x":1,"y":3.1},
{"f":2,"s":25,"x":0,"y":-5.3},{"f":2,"s":25,"x":0.05,"y":-4.7},{"f":2,"s":25,"x":0.1,"y":-4.2},{"f":2,"s":25,"x":0.15,"y":-3.8},{"f":2,"s":25,"x":0.2,"y":-3.5},{"f":2,"s":25,"x":0.25,"y":-3.2},{"f":2,"s":25,"x":0.3,"y":-2.9},{"f":2,"s":25,"x":0.35,"y":-2.6},{"f":2,"s":25,"x":0.4,"y":-2.4},{"f":2,"s":25,"x":0.45,"y":-2.1},{"f":2,"s":25,"x":0.5,"y":-1.8},{"f":2,"s":25,"x":0.55,"y":-1.5},{"f":2,"s":25,"x":0.6,"y":-1.1},{"f":2,"s":25,"x":0.65,"y":-0.7},{"f":2,"s":25,"x":0.7,"y":-0.4},{"f":2,"s":25,"x":0.75,"y":0.1},{"f":2,"s":25,"x":0.8,"y":0.6},{"f":2,"s":25,"x":0.85,"y":1.1},{"f":2,"s":25,"x":0.9,"y":1.6},{"f":2,"s":25,"x":0.95,"y":2.1},{"f":2,"s":25,"x":1,"y":2.4},
{"f":2,"s":26,"x":0,"y":-3.2},{"f":2,"s":26,"x":0.05,"y":-3.1},{"f":2,"s":26,"x":0.1,"y":-2.9},{"f":2,"s":26,"x":0.15,"y":-2.6},{"f":2,"s":26,"x":0.2,"y":-2.4},{"f":2,"s":26,"x":0.25,"y":-2.2},{"f":2,"s":26,"x":0.3,"y":-2.0},{"f":2,"s":26,"x":0.35,"y":-1.8},{"f":2,"s":26,"x":0.4,"y":-1.6},{"f":2,"s":26,"x":0.45,"y":-1.3},{"f":2,"s":26,"x":0.5,"y":-1.1},{"f":2,"s":26,"x":0.55,"y":-0.8},{"f":2,"s":26,"x":0.6,"y":-0.4},{"f":2,"s":26,"x":0.65,"y":-0.1},{"f":2,"s":26,"x":0.7,"y":0.3},{"f":2,"s":26,"x":0.75,"y":0.6},{"f":2,"s":26,"x":0.8,"y":1.0},{"f":2,"s":26,"x":0.85,"y":1.5},{"f":2,"s":26,"x":0.9,"y":1.9},{"f":2,"s":26,"x":0.95,"y":2.4},{"f":2,"s":26,"x":1,"y":2.8},
{"f":2,"s":27,"x":0,"y":-1.9},{"f":2,"s":27,"x":0.05,"y":-1.8},{"f":2,"s":27,"x":0.1,"y":-1.7},{"f":2,"s":27,"x":0.15,"y":-1.5},{"f":2,"s":27,"x":0.2,"y":-1.4},{"f":2,"s":27,"x":0.25,"y":-1.2},{"f":2,"s":27,"x":0.3,"y":-1.0},{"f":2,"s":27,"x":0.35,"y":-0.8},{"f":2,"s":27,"x":0.4,"y":-0.6},{"f":2,"s":27,"x":0.45,"y":-0.4},{"f":2,"s":27,"x":0.5,"y":-0.2},{"f":2,"s":27,"x":0.55,"y":0.0},{"f":2,"s":27,"x":0.6,"y":0.3},{"f":2,"s":27,"x":0.65,"y":0.6},{"f":2,"s":27,"x":0.7,"y":0.9},{"f":2,"s":27,"x":0.75,"y":1.2},{"f":2,"s":27,"x":0.8,"y":1.5},{"f":2,"s":27,"x":0.85,"y":1.8},{"f":2,"s":27,"x":0.9,"y":2.1},{"f":2,"s":27,"x":0.95,"y":2.5},{"f":2,"s":27,"x":1,"y":3.6},
{"f":2,"s":28,"x":0,"y":-3.9},{"f":2,"s":28,"x":0.05,"y":-3.7},{"f":2,"s":28,"x":0.1,"y":-3.4},{"f":2,"s":28,"x":0.15,"y":-3.1},{"f":2,"s":28,"x":0.2,"y":-2.8},{"f":2,"s":28,"x":0.25,"y":-2.5},{"f":2,"s":28,"x":0.3,"y":-2.3},{"f":2,"s":28,"x":0.35,"y":-2.0},{"f":2,"s":28,"x":0.4,"y":-1.8},{"f":2,"s":28,"x":0.45,"y":-1.6},{"f":2,"s":28,"x":0.5,"y":-1.3},{"f":2,"s":28,"x":0.55,"y":-1.0},{"f":2,"s":28,"x":0.6,"y":-0.7},{"f":2,"s":28,"x":0.65,"y":-0.4},{"f":2,"s":28,"x":0.7,"y":-0.1},{"f":2,"s":28,"x":0.75,"y":0.3},{"f":2,"s":28,"x":0.8,"y":0.7},{"f":2,"s":28,"x":0.85,"y":1.1},{"f":2,"s":28,"x":0.9,"y":1.5},{"f":2,"s":28,"x":0.95,"y":1.9},{"f":2,"s":28,"x":1,"y":2.1},
{"f":2,"s":35,"x":0,"y":-4.0},{"f":2,"s":35,"x":0.05,"y":-3.6},{"f":2,"s":35,"x":0.1,"y":-3.2},{"f":2,"s":35,"x":0.15,"y":-2.9},{"f":2,"s":35,"x":0.2,"y":-2.6},{"f":2,"s":35,"x":0.25,"y":-2.3},{"f":2,"s":35,"x":0.3,"y":-2.1},{"f":2,"s":35,"x":0.35,"y":-1.9},{"f":2,"s":35,"x":0.4,"y":-1.6},{"f":2,"s":35,"x":0.45,"y":-1.4},{"f":2,"s":35,"x":0.5,"y":-1.1},{"f":2,"s":35,"x":0.55,"y":-0.8},{"f":2,"s":35,"x":0.6,"y":-0.5},{"f":2,"s":35,"x":0.65,"y":-0.2},{"f":2,"s":35,"x":0.7,"y":0.2},{"f":2,"s":35,"x":0.75,"y":0.5},{"f":2,"s":35,"x":0.8,"y":0.9},{"f":2,"s":35,"x":0.85,"y":1.4},{"f":2,"s":35,"x":0.9,"y":1.8},{"f":2,"s":35,"x":0.95,"y":2.3},{"f":2,"s":35,"x":1,"y":2.7},
{"f":2,"s":36,"x":0,"y":-2.5},{"f":2,"s":36,"x":0.05,"y":-2.5},{"f":2,"s":36,"x":0.1,"y":-2.4},{"f":2,"s":36,"x":0.15,"y":-2.3},{"f":2,"s":36,"x":0.2,"y":-2.2},{"f":2,"s":36,"x":0.25,"y":-2.0},{"f":2,"s":36,"x":0.3,"y":-1.9},{"f":2,"s":36,"x":0.35,"y":-1.7},{"f":2,"s":36,"x":0.4,"y":-1.5},{"f":2,"s":36,"x":0.45,"y":-1.2},{"f":2,"s":36,"x":0.5,"y":-1.0},{"f":2,"s":36,"x":0.55,"y":-0.7},{"f":2,"s":36,"x":0.6,"y":-0.4},{"f":2,"s":36,"x":0.65,"y":-0.1},{"f":2,"s":36,"x":0.7,"y":0.2},{"f":2,"s":36,"x":0.75,"y":0.6},{"f":2,"s":36,"x":0.8,"y":1.0},{"f":2,"s":36,"x":0.85,"y":1.4},{"f":2,"s":36,"x":0.9,"y":1.8},{"f":2,"s":36,"x":0.95,"y":2.1},{"f":2,"s":36,"x":1,"y":2.2},
{"f":2,"s":37,"x":0,"y":-3.4},{"f":2,"s":37,"x":0.05,"y":-3.1},{"f":2,"s":37,"x":0.1,"y":-2.8},{"f":2,"s":37,"x":0.15,"y":-2.6},{"f":2,"s":37,"x":0.2,"y":-2.4},{"f":2,"s":37,"x":0.25,"y":-2.1},{"f":2,"s":37,"x":0.3,"y":-1.9},{"f":2,"s":37,"x":0.35,"y":-1.7},{"f":2,"s":37,"x":0.4,"y":-1.4},{"f":2,"s":37,"x":0.45,"y":-1.2},{"f":2,"s":37,"x":0.5,"y":-0.9},{"f":2,"s":37,"x":0.55,"y":-0.6},{"f":2,"s":37,"x":0.6,"y":-0.3},{"f":2,"s":37,"x":0.65,"y":0.0},{"f":2,"s":37,"x":0.7,"y":0.3},{"f":2,"s":37,"x":0.75,"y":0.7},{"f":2,"s":37,"x":0.8,"y":1.1},{"f":2,"s":37,"x":0.85,"y":1.6},{"f":2,"s":37,"x":0.9,"y":2.0},{"f":2,"s":37,"x":0.95,"y":2.5},{"f":2,"s":37,"x":1,"y":3.3},
{"f":2,"s":38,"x":0,"y":-2.9},{"f":2,"s":38,"x":0.05,"y":-2.8},{"f":2,"s":38,"x":0.1,"y":-2.6},{"f":2,"s":38,"x":0.15,"y":-2.4},{"f":2,"s":38,"x":0.2,"y":-2.2},{"f":2,"s":38,"x":0.25,"y":-2.0},{"f":2,"s":38,"x":0.3,"y":-1.8},{"f":2,"s":38,"x":0.35,"y":-1.6},{"f":2,"s":38,"x":0.4,"y":-1.4},{"f":2,"s":38,"x":0.45,"y":-1.2},{"f":2,"s":38,"x":0.5,"y":-0.9},{"f":2,"s":38,"x":0.55,"y":-0.6},{"f":2,"s":38,"x":0.6,"y":-0.3},{"f":2,"s":38,"x":0.65,"y":0.0},{"f":2,"s":38,"x":0.7,"y":0.3},{"f":2,"s":38,"x":0.75,"y":0.6},{"f":2,"s":38,"x":0.8,"y":0.9},{"f":2,"s":38,"x":0.85,"y":1.3},{"f":2,"s":38,"x":0.9,"y":1.7},{"f":2,"s":38,"x":0.95,"y":2.1},{"f":2,"s":38,"x":1,"y":2.4}
]
},
"encoding":{
"x":{"field":"x","type":"quantitative","scale":{"domain":[-0.045,1.048],"nice":false,"zero":false},
"axis":{"title":"x2","values":[0,0.125,0.25,0.375,0.5,0.625,0.75,0.875,1],"format":".2f","labelExpr":"(datum.value*8)%2==0 ? datum.label : ''","labelFlush":false,"labelOverlap":false,"labelPadding":4,"titlePadding":17,"labelColor":"#e6e6e6","titleColor":"#eeeeee",
"gridColor":{"condition":{"test":"(datum.value*8)%2!=0","value":"#2e2e2e"},"value":"#5a5a5a"},
"tickOpacity":{"condition":{"test":"(datum.value*8)%2!=0","value":0},"value":1}}},
"y":{"field":"y","type":"quantitative","scale":{"domain":[-7.25,11.62],"nice":false,"zero":false},
"axis":{"title":"y","values":[-5,-2.5,0,2.5,5,7.5,10],"labelExpr":"datum.value%5==0 ? datum.label : ''","labelFlush":false,"labelOverlap":false,"labelPadding":4,"titlePadding":12,"labelColor":"#e6e6e6","titleColor":"#eeeeee",
"gridColor":{"condition":{"test":"datum.value%5!=0","value":"#2e2e2e"},"value":"#5a5a5a"},
"tickOpacity":{"condition":{"test":"datum.value%5!=0","value":0},"value":1}}}
},
"layer":[
{"data":{"name":"m"},"mark":{"type":"square","opacity":0,"filled":true},
"encoding":{"fill":{"field":"f","type":"nominal","scale":{"range":["#3c3c3c","#3c3c3c","#3c3c3c"]},
"legend":{"orient":"none","legendX":620.7,"legendY":213,"title":null,"symbolType":"square","symbolSize":676,"symbolStrokeColor":"#a8a8a8","symbolStrokeWidth":1,"symbolOpacity":1,"labelExpr":"''","labelFontSize":14,"labelOffset":6,"rowPadding":-4,"padding":0,"zindex":1}}}},
{"data":{"name":"s"},"transform":[{"filter":"datum.f==1"}],"mark":{"type":"line","strokeWidth":1.1,"opacity":0.5,"interpolate":"linear"},
"encoding":{"detail":{"field":"s","type":"nominal"},
"color":{"field":"f","type":"nominal","scale":{"domain":[1,2,3],"range":["#F8766D","#00BA38","#619CFF"]},
"legend":{"orient":"none","legendX":620.7,"legendY":194,"title":"fac","titleColor":"#eeeeee","titleFontSize":14,"titleFontWeight":"bold","titlePadding":5,"symbolType":"M-0.85,0H0.85M0,-1L0,-1M0,1L0,1","symbolSize":676,"symbolStrokeWidth":1,"symbolOpacity":0.9,"labelColor":"#eeeeee","labelFontSize":14,"labelOffset":6,"rowPadding":-4,"padding":0,"zindex":2}}}},
{"data":{"name":"s"},"transform":[{"filter":"datum.f!=1"}],"mark":{"type":"line","strokeWidth":1.2,"opacity":0.55,"interpolate":"monotone"},
"encoding":{"detail":{"field":"s","type":"nominal"},"color":{"field":"f","type":"nominal"}}},
{"data":{"name":"m"},"mark":{"type":"line","color":"#f2f2f2","strokeWidth":2,"interpolate":"monotone"},
"encoding":{"detail":{"field":"f","type":"nominal"}}}
],
"config":{
"font":"Liberation Sans",
"view":{"stroke":"#e6e6e6","strokeWidth":1},
"axis":{"domain":false,"grid":true,"gridWidth":1,"tickColor":"#9a9a9a","tickSize":4,"tickWidth":1,"labelColor":"#e6e6e6","labelFontSize":13.5,"titleColor":"#eeeeee","titleFontSize":16,"titleFontWeight":"normal"}
}
}
